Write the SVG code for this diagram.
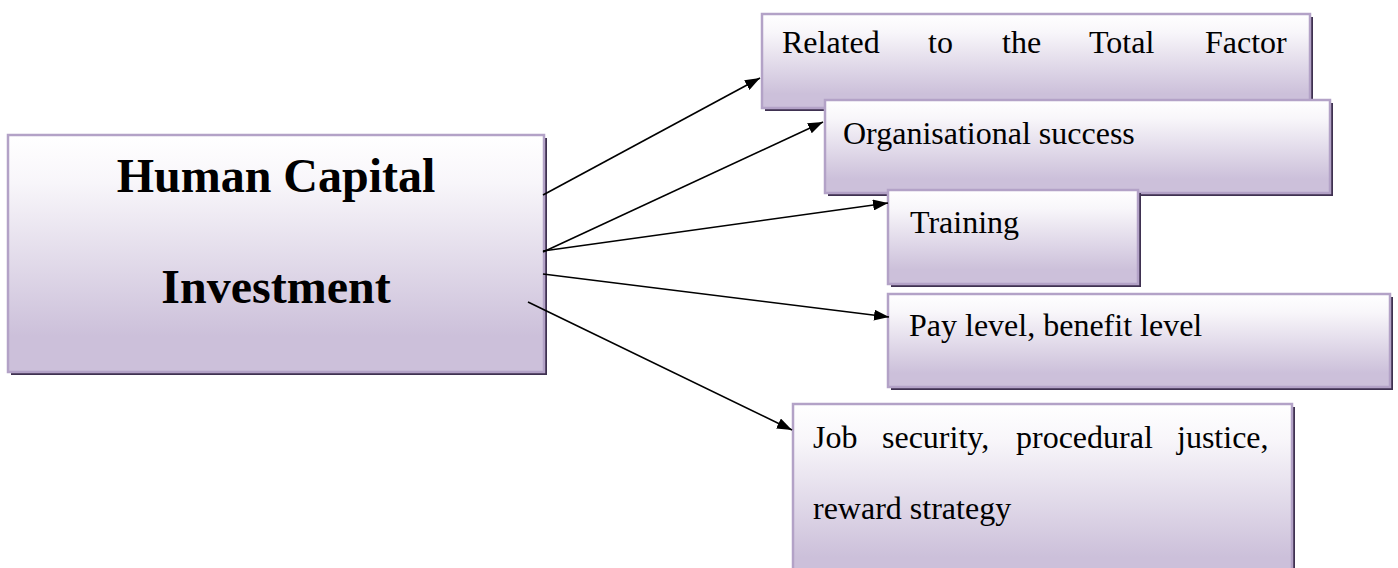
<svg xmlns="http://www.w3.org/2000/svg" width="1398" height="568" viewBox="0 0 1398 568">
<style>
.shadow{fill:#3f3151}
.box{fill:url(#g);stroke:#b3a2c7;stroke-width:2.5}
.t{font-family:"Liberation Serif","Times New Roman",serif;font-size:32px;fill:#000}
.big{font-family:"Liberation Serif","Times New Roman",serif;font-size:48px;font-weight:bold;fill:#000}
.c{stroke:#000;stroke-width:1.6;fill:none;marker-end:url(#ah)}
</style>
<defs>
<linearGradient id="g" x1="0" y1="0" x2="0" y2="1">
<stop offset="0" stop-color="#ffffff"/>
<stop offset="0.2" stop-color="#f8f6fa"/>
<stop offset="0.85" stop-color="#ccc0da"/>
<stop offset="1" stop-color="#ccc0da"/>
</linearGradient>
<marker id="ah" viewBox="0 0 15 11" refX="15" refY="5.5" markerWidth="15" markerHeight="11" markerUnits="userSpaceOnUse" orient="auto">
<path d="M0,0 L15,5.5 L0,11 z" fill="#000"/>
</marker>
</defs>
<rect width="1398" height="568" fill="#fff"/>
<g id="main">
<rect class="shadow" x="11" y="138" width="536" height="237"/>
<rect class="box" x="8" y="135" width="536" height="237"/>
<text class="big" x="276" y="192" text-anchor="middle">Human Capital</text>
<text class="big" x="276" y="303" text-anchor="middle">Investment</text>
</g>
<g id="n1">
<rect class="shadow" x="765" y="17" width="548" height="94"/>
<rect class="box" x="762" y="14" width="548" height="94"/>
<text class="t" y="53"><tspan x="782">Related</tspan><tspan x="928">to</tspan><tspan x="1002">the</tspan><tspan x="1089">Total</tspan><tspan x="1205">Factor</tspan></text>
</g>
<g id="n2">
<rect class="shadow" x="828" y="103" width="505" height="93"/>
<rect class="box" x="825" y="100" width="505" height="93"/>
<text class="t" x="843" y="144">Organisational success</text>
</g>
<g id="n3">
<rect class="shadow" x="891" y="193" width="250" height="94"/>
<rect class="box" x="888" y="190" width="250" height="94"/>
<text class="t" x="910" y="233">Training</text>
</g>
<g id="n4">
<rect class="shadow" x="891" y="297" width="502" height="93"/>
<rect class="box" x="888" y="294" width="502" height="93"/>
<text class="t" x="909" y="336">Pay level, benefit level</text>
</g>
<g id="n5">
<rect class="shadow" x="796" y="407" width="499" height="180"/>
<rect class="box" x="793" y="404" width="499" height="180"/>
<text class="t" y="448"><tspan x="813">Job</tspan><tspan x="882">security,</tspan><tspan x="1016">procedural</tspan><tspan x="1177">justice,</tspan></text>
<text class="t" x="813" y="519">reward strategy</text>
</g>
<g id="connectors">
<line class="c" x1="543" y1="195" x2="760" y2="78"/>
<line class="c" x1="543" y1="252" x2="823" y2="122" stroke-width="2"/>
<line class="c" x1="543" y1="251" x2="888" y2="203"/>
<line class="c" x1="543" y1="274" x2="889" y2="317"/>
<line class="c" x1="528" y1="302" x2="792" y2="430"/>
</g>
</svg>
